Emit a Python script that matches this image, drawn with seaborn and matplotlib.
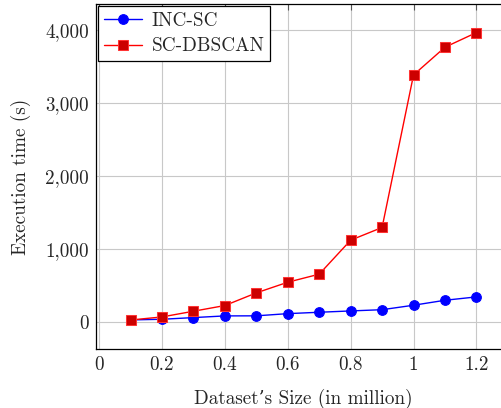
import matplotlib
matplotlib.use("Agg")
import matplotlib.pyplot as plt
from matplotlib.ticker import FuncFormatter
import seaborn as sns
import pandas as pd

# data
sizes = [0.1, 0.2, 0.3, 0.4, 0.5, 0.6, 0.7, 0.8, 0.9, 1.0, 1.1, 1.2]
inc_sc = [32, 41, 64, 87, 88, 118, 137, 155, 172, 233, 301, 347]
sc_dbscan = [31, 73, 151, 229, 402, 548, 658, 1123, 1297, 3384, 3763, 3963]
methods = ["INC-SC", "SC-DBSCAN"]

df = pd.DataFrame({
    "size": sizes * 2,
    "time": inc_sc + sc_dbscan,
    "method": [methods[0]] * len(sizes) + [methods[1]] * len(sizes),
})

sns.set_style("whitegrid")
plt.rcParams["font.family"] = ["cmr10", "DejaVu Serif"]
plt.rcParams["mathtext.fontset"] = "cm"
plt.rcParams["axes.formatter.use_mathtext"] = True

FS = 13.8

fig = plt.figure(figsize=(5.02, 4.08), dpi=100)
ax = fig.add_axes([96 / 502, 0.1451, (511 - 96) / 502, 0.99 - 0.1451])

# -------------------------------
# lines
# -------------------------------
sns.lineplot(data=df[df.method == methods[0]], x="size", y="time", ax=ax,
             color="blue", marker="o", markersize=7, markerfacecolor="blue",
             markeredgecolor="blue", linewidth=1, label=methods[0])
sns.lineplot(data=df[df.method == methods[1]], x="size", y="time", ax=ax,
             color="red", marker="s", markersize=7, markerfacecolor="#cc0000",
             markeredgecolor="#ff3333", linewidth=1, label=methods[1])

ax.set_xlim(-0.01, 1.31)
ax.set_ylim(-363, 4353)
ax.set_xticks([0, 0.2, 0.4, 0.6, 0.8, 1, 1.2])
ax.set_yticks([0, 1000, 2000, 3000, 4000])
ax.xaxis.set_major_formatter(FuncFormatter(lambda v, p: f"{v:g}"))
ax.yaxis.set_major_formatter(FuncFormatter(lambda v, p: f"{int(v):,}"))

ax.grid(True, color="#c8c8c8", linewidth=0.8)
for s in ax.spines.values():
    s.set_color("black")
    s.set_linewidth(0.9)
ax.tick_params(direction="in", length=4, width=0.8, color="#555555",
               top=True, right=True, labelsize=FS, pad=5)

ax.set_xlabel("Dataset’s Size (in million)", fontsize=FS, labelpad=11)
ax.set_ylabel("Execution time (s)", fontsize=FS, labelpad=10)

leg = ax.legend(loc="upper left", fontsize=FS, frameon=True, fancybox=False,
                edgecolor="black", framealpha=1, borderaxespad=0.1,
                handlelength=2.0, handletextpad=0.5, labelspacing=0.4,
                borderpad=0.3)
leg.get_frame().set_linewidth(0.9)

fig.savefig("out.png", dpi=100)
